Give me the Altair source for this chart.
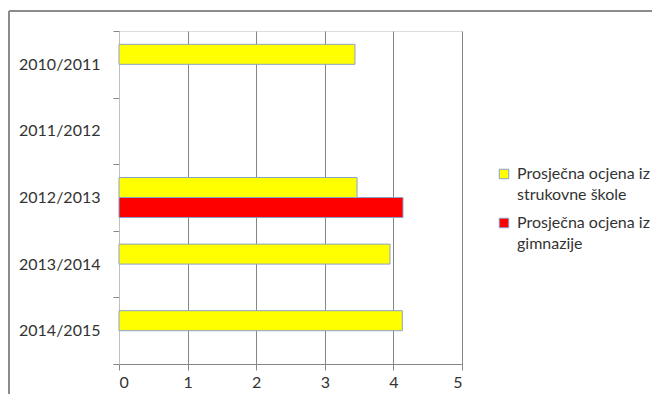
import altair as alt
import pandas as pd

years = ["2010/2011", "2011/2012", "2012/2013", "2013/2014", "2014/2015"]
series = ["Prosječna ocjena iz strukovne škole", "Prosječna ocjena iz gimnazije"]
strukovne = [3.44, None, 3.47, 3.95, 4.13]
gimnazije = [None, None, 4.14, None, None]
x_ticks = [0, 1, 2, 3, 4, 5]

rows = []
for y, a, b in zip(years, strukovne, gimnazije):
    if a is not None:
        rows.append({"godina": y, "serija": series[0], "ocjena": a})
    if b is not None:
        rows.append({"godina": y, "serija": series[1], "ocjena": b})
df = pd.DataFrame(rows)

FONT = "Lato"
TXT = "#333333"

bars = alt.Chart(df).mark_bar(stroke="#8aa2c8", strokeWidth=1).encode(
    x=alt.X("ocjena:Q", scale=alt.Scale(domain=[0, 5], nice=False),
            axis=alt.Axis(values=x_ticks, title=None, grid=True, gridColor="#868686",
                          domainColor="#868686", tickColor="#868686", tickSize=6,
                          labelPadding=4, labelFontSize=16, labelFont=FONT,
                          labelColor=TXT)),
    y=alt.Y("godina:N", sort=years, scale=alt.Scale(domain=years, paddingInner=0, paddingOuter=0),
            axis=alt.Axis(title=None, tickBand="extent", domainColor="#bfbfbf",
                          tickColor="#868686", tickSize=6, labelPadding=13,
                          labelFontSize=16, labelFont=FONT, labelColor=TXT)),
    yOffset=alt.YOffset("serija:N", sort=series,
                        scale=alt.Scale(domain=series, paddingInner=0, paddingOuter=0.665)),
    color=alt.Color("serija:N", sort=series,
                    scale=alt.Scale(domain=series, range=["#ffff00", "#ff0000"]),
                    legend=alt.Legend(title=None, orient="none", legendX=377, legendY=135,
                                      symbolType="square", symbolSize=90,
                                      symbolStrokeColor="#8aa2c8", symbolStrokeWidth=1,
                                      labelFont=FONT, labelFontSize=16, labelColor=TXT,
                                      labelLimit=300, labelOffset=5, rowPadding=12,
                                      labelExpr="[slice(datum.label, 0, 19), slice(datum.label, 20)]")),
)

frame = pd.DataFrame({"k": [0]})
top_line = alt.Chart(frame).mark_rule(color="#8c8c8c", strokeWidth=2).encode(
    x=alt.value(-110), x2=alt.value(560), y=alt.value(-20))
left_line = alt.Chart(frame).mark_rule(color="#8c8c8c", strokeWidth=2).encode(
    x=alt.value(-110), y=alt.value(-20), y2=alt.value(400))

chart = alt.layer(bars, top_line, left_line).properties(
    width=343, height=333,
    autosize=alt.AutoSizeParams(type="none"),
    padding={"left": 111, "top": 23, "right": 190, "bottom": 30},
    background="white",
).configure_view(stroke=None).configure(style={"guide-label": {"lineHeight": 21}})

chart.save("out.html", embed_options={"renderer": "svg", "actions": False})
